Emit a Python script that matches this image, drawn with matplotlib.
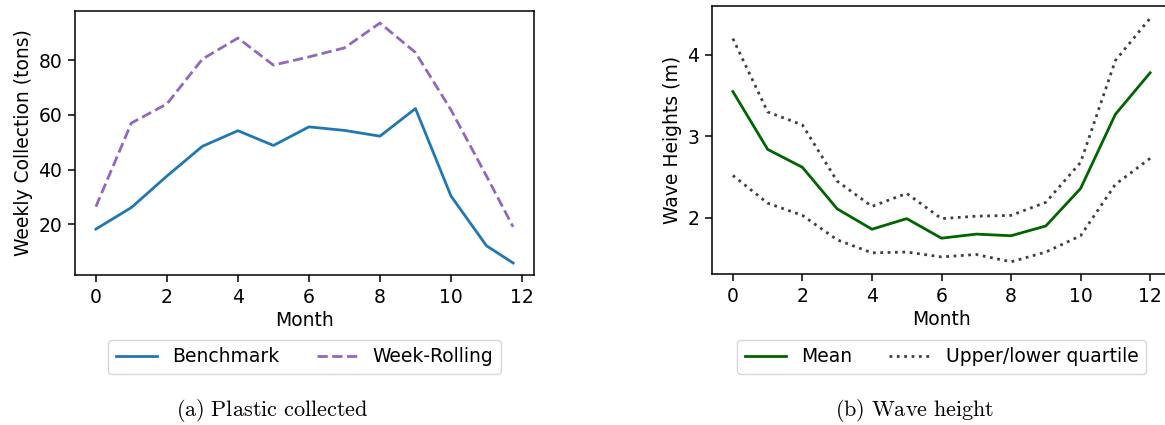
import matplotlib
matplotlib.use("Agg")
import matplotlib.pyplot as plt

# Plastic collected per month
mois_plastique = [0, 1, 2, 3, 4, 5, 6, 7, 8, 9, 10, 11, 11.75]
benchmark = [18.2, 26.1, 37.6, 48.5, 54.2, 48.8, 55.6, 54.3, 52.2, 62.3, 30.3, 12.1, 5.8]
week_rolling = [26.4, 57.0, 64.0, 80.4, 88.1, 78.2, 81.2, 84.5, 93.6, 82.8, 61.8, 37.6, 19.0]

# Wave heights per month
mois_vagues = [0, 1, 2, 3, 4, 5, 6, 7, 8, 9, 10, 11, 12]
vague_moyenne = [3.55, 2.84, 2.62, 2.11, 1.86, 1.99, 1.75, 1.80, 1.78, 1.90, 2.36, 3.27, 3.78]
vague_haut = [4.20, 3.30, 3.14, 2.45, 2.14, 2.30, 1.99, 2.02, 2.03, 2.19, 2.68, 3.93, 4.45]
vague_bas = [2.52, 2.18, 2.03, 1.73, 1.57, 1.58, 1.52, 1.55, 1.46, 1.58, 1.78, 2.41, 2.73]

plt.rcParams["font.size"] = 13.5
plt.rcParams["axes.linewidth"] = 1.1
plt.rcParams["xtick.major.size"] = 4.7
plt.rcParams["ytick.major.size"] = 4.7
plt.rcParams["xtick.major.width"] = 1.1
plt.rcParams["ytick.major.width"] = 1.1
plt.rcParams["xtick.major.pad"] = 4.5
plt.rcParams["ytick.major.pad"] = 4.5
plt.rcParams["mathtext.fontset"] = "cm"

LW = 2.0

fig = plt.figure(figsize=(11.65, 4.25), dpi=100)

# (a) plastique collecte
ax1 = fig.add_axes([75 / 1165, 150 / 425, 459 / 1165, 264 / 425])
ax1.plot(mois_plastique, benchmark, color="tab:blue", lw=LW, label="Benchmark")
ax1.plot(mois_plastique, week_rolling, color="tab:purple", lw=LW, ls="--", label="Week-Rolling")
ax1.set_xticks([0, 2, 4, 6, 8, 10, 12])
ax1.set_yticks([20, 40, 60, 80])
ax1.set_xlabel("Month", labelpad=3)
ax1.set_ylabel("Weekly Collection (tons)")
ax1.legend(loc="upper center", bbox_to_anchor=(0.5, -0.21), ncol=2,
           columnspacing=2.0, handlelength=2.2)

# (b) hauteur des vagues
ax2 = fig.add_axes([712 / 1165, 151 / 425, 459 / 1165, 268 / 425])
ax2.plot(mois_vagues, vague_moyenne, color="darkgreen", lw=LW, label="Mean")
ax2.plot(mois_vagues, vague_haut, color="#404040", lw=LW, ls=":", label="Upper/lower quartile")
ax2.plot(mois_vagues, vague_bas, color="#404040", lw=LW, ls=":")
ax2.set_xticks([0, 2, 4, 6, 8, 10, 12])
ax2.set_yticks([2, 3, 4])
ax2.set_xlabel("Month", labelpad=3)
ax2.set_ylabel("Wave Heights (m)")
ax2.legend(loc="upper center", bbox_to_anchor=(0.5, -0.21), ncol=2,
           columnspacing=2.0, handlelength=2.2)

# sous-titres
fig.text(272 / 1165, 1 - 410 / 425, r"$\mathrm{(a)\ Plastic\ collected}$",
         ha="center", va="center", fontsize=16)
fig.text(915 / 1165, 1 - 410 / 425, r"$\mathrm{(b)\ Wave\ height}$",
         ha="center", va="center", fontsize=16)

fig.savefig("out.png", dpi=100)
